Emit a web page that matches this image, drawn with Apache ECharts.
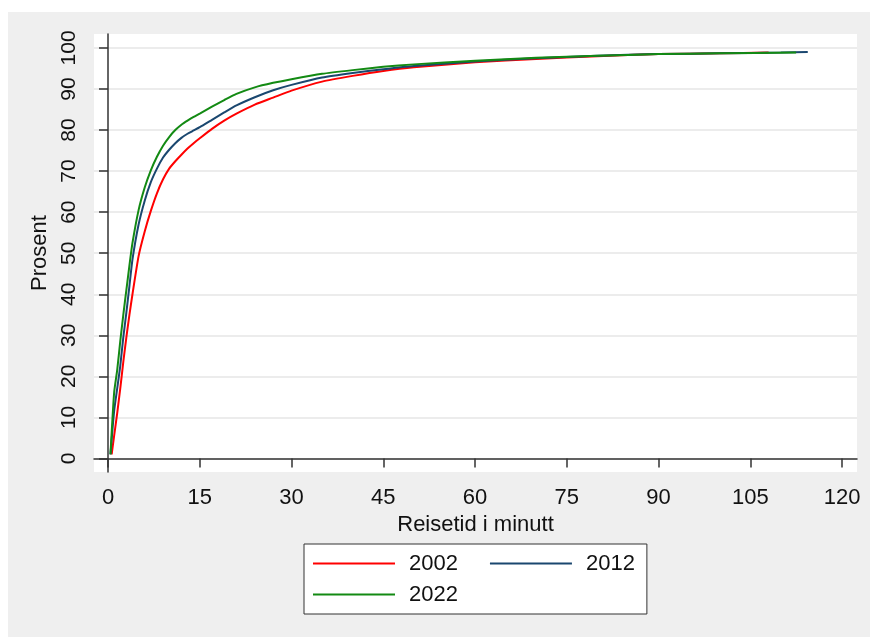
<!DOCTYPE html>
<html>
<head>
<meta charset="utf-8">
<script src="https://cdn.jsdelivr.net/npm/echarts@6/dist/echarts.min.js"></script>
<style>
  html, body { margin: 0; padding: 0; background: #fff; }
  #chart { width: 870px; height: 637px; }
</style>
</head>
<body>
<div id="chart"></div>
<script>
// tick labels
var xTicks = [0, 15, 30, 45, 60, 75, 90, 105, 120];
var yTicks = [0, 10, 20, 30, 40, 50, 60, 70, 80, 90, 100];

// 2002
var t2002 = [0.6, 1, 1.5, 2, 2.5, 3, 3.5, 4, 5, 6, 7, 8, 9, 10, 11, 12, 13, 14, 15, 17, 19, 21, 24, 27, 30, 35, 40, 45, 50, 60, 70, 80, 90, 100, 108];
var p2002 = [1.0, 5.5, 11, 17, 23.5, 29.5, 35, 40, 49.3, 55.3, 60.3, 64.6, 68, 70.6, 72.4, 74, 75.5, 76.8, 78, 80.3, 82.3, 84, 86.2, 87.9, 89.6, 91.8, 93.2, 94.4, 95.3, 96.5, 97.3, 98.0, 98.5, 98.7, 98.9];

// 2012
var t2012 = [0.4, 1, 1.5, 2, 2.5, 3, 3.5, 4, 5, 6, 7, 8, 9, 10, 11, 12, 13, 14, 15, 17, 19, 21, 24, 27, 30, 35, 40, 45, 50, 60, 70, 80, 90, 100, 110, 114.4];
var p2012 = [1.0, 11.5, 17, 22.5, 29.5, 35.5, 42, 48.5, 57, 62.8, 67.3, 70.6, 73.3, 75.2, 76.8, 78.1, 79.1, 79.9, 80.7, 82.5, 84.3, 86, 88, 89.7, 91, 92.8, 93.9, 94.8, 95.6, 96.7, 97.5, 98.1, 98.5, 98.7, 98.9, 99.0];

// 2022
var t2022 = [0.4, 1, 1.5, 2, 2.5, 3, 3.5, 4, 5, 6, 7, 8, 9, 10, 11, 12, 13, 14, 15, 17, 19, 21, 24, 27, 30, 35, 40, 45, 50, 60, 70, 80, 90, 100, 112.5];
var p2022 = [1.0, 16, 21.5, 28.5, 35, 41, 47, 52.5, 60.5, 66, 70.2, 73.5, 76.2, 78.3, 80, 81.3, 82.3, 83.2, 84, 85.7, 87.3, 88.8, 90.4, 91.5, 92.4, 93.7, 94.6, 95.4, 96, 96.9, 97.6, 98.1, 98.5, 98.7, 98.9];

function pairs(t, p) {
    return t.map(function (x, i) { return [x, p[i]]; });
}

var font = '"Liberation Sans", Arial, sans-serif';

function lineSeries(name, t, p, color) {
    return {
        name: name,
        type: 'line',
        data: pairs(t, p),
        symbol: 'none',
        showSymbol: false,
        smooth: 0.2,
        lineStyle: { color: color, width: 2 },
        itemStyle: { color: color }
    };
}

var chart = echarts.init(document.getElementById('chart'));
chart.setOption({
    backgroundColor: '#ffffff',
    animation: false,
    graphic: [{
        type: 'rect',
        left: 8, top: 12, z: -100, silent: true,
        shape: { width: 862, height: 625 },
        style: { fill: '#efefef' }
    }],
    grid: {
        left: 94, right: 13, top: 34, bottom: 165,
        show: true, backgroundColor: '#ffffff', borderWidth: 0
    },
    xAxis: {
        type: 'value',
        min: -2.29, max: 122.45,
        name: 'Reisetid i minutt',
        nameLocation: 'middle',
        nameGap: 38,
        nameTextStyle: { fontFamily: font, fontSize: 22, color: '#111' },
        axisLine: { lineStyle: { color: '#333', width: 1.5 } },
        axisTick: { show: true, length: 9, customValues: xTicks, lineStyle: { color: '#333', width: 1.5 } },
        axisLabel: { customValues: xTicks, margin: 15, fontFamily: font, fontSize: 22, color: '#111' },
        splitLine: { show: false }
    },
    yAxis: {
        type: 'value',
        min: -3.3, max: 103.4,
        name: 'Prosent',
        nameLocation: 'middle',
        nameGap: 37,
        nameTextStyle: { fontFamily: font, fontSize: 22, color: '#111' },
        axisLine: { show: true, lineStyle: { color: '#333', width: 1.5 } },
        axisTick: { show: true, length: 9, customValues: yTicks, lineStyle: { color: '#333', width: 1.5 } },
        axisLabel: { customValues: yTicks, rotate: 90, margin: 14, fontFamily: font, fontSize: 21, color: '#111' },
        splitLine: { show: true, lineStyle: { color: '#e6e6e6', width: 1.5 } }
    },
    legend: {
        left: 304, top: 544,
        width: 330,
        orient: 'horizontal',
        backgroundColor: '#ffffff',
        borderColor: '#333',
        borderWidth: 1,
        borderRadius: 0,
        padding: [4, 12, 4, 9],
        itemGap: 0,
        icon: 'rect',
        itemWidth: 82,
        itemHeight: 2,
        textStyle: { fontFamily: font, fontSize: 22, color: '#111', lineHeight: 31 },
        data: [
            { name: '2002', textStyle: { padding: [0, 32, 0, 9] } },
            { name: '2012', textStyle: { padding: [0, 0, 0, 9] } },
            { name: '2022', textStyle: { padding: [0, 32, 0, 9] } }
        ]
    },
    series: [
        lineSeries('2002', t2002, p2002, '#ff0000'),
        lineSeries('2012', t2012, p2012, '#1a476f'),
        lineSeries('2022', t2022, p2022, '#138a13')
    ]
});
window.addEventListener('resize', function () { chart.resize(); });
</script>
</body>
</html>
